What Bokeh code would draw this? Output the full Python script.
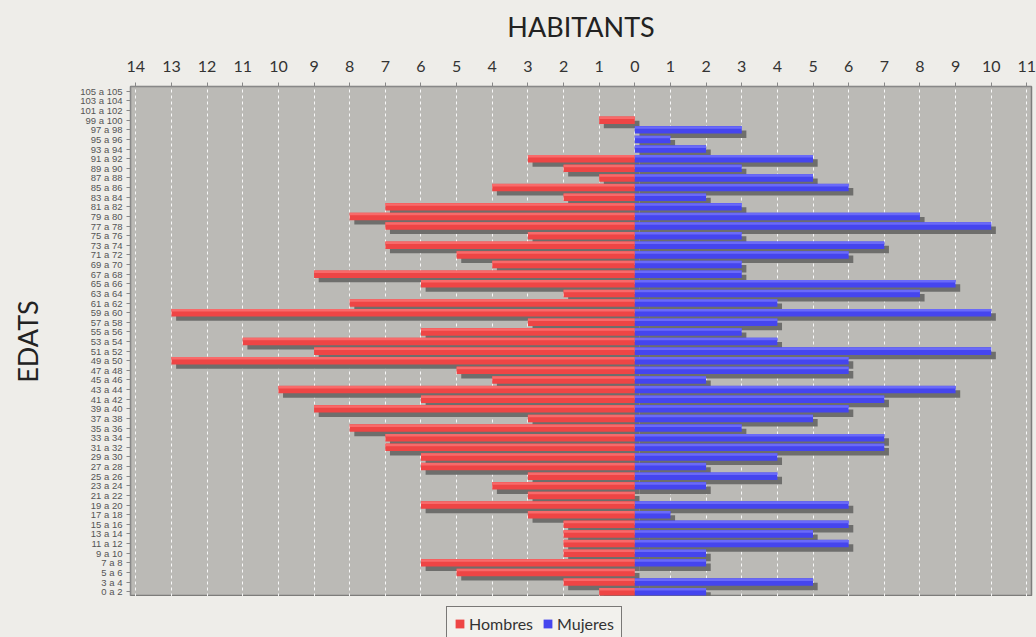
from bokeh.plotting import figure
from bokeh.layouts import column
from bokeh.models import (FactorRange, Range1d, FixedTicker, CustomJSTickFormatter,
                          Legend, LegendItem, ColumnDataSource, GlobalInlineStyleSheet)
from bokeh.transform import dodge
from bokeh.embed import file_html
from bokeh.resources import INLINE

# ---- data (bottom to top) ----
ages = ["0 a 2", "3 a 4", "5 a 6", "7 a 8", "9 a 10", "11 a 12", "13 a 14", "15 a 16",
        "17 a 18", "19 a 20", "21 a 22", "23 a 24", "25 a 26", "27 a 28", "29 a 30",
        "31 a 32", "33 a 34", "35 a 36", "37 a 38", "39 a 40", "41 a 42", "43 a 44",
        "45 a 46", "47 a 48", "49 a 50", "51 a 52", "53 a 54", "55 a 56", "57 a 58",
        "59 a 60", "61 a 62", "63 a 64", "65 a 66", "67 a 68", "69 a 70", "71 a 72",
        "73 a 74", "75 a 76", "77 a 78", "79 a 80", "81 a 82", "83 a 84", "85 a 86",
        "87 a 88", "89 a 90", "91 a 92", "93 a 94", "95 a 96", "97 a 98", "99 a 100",
        "101 a 102", "103 a 104", "105 a 105"]
hombres = [1, 2, 5, 6, 2, 2, 2, 2, 3, 6, 3, 4, 3, 6, 6, 7, 7, 8, 3, 9, 6, 10, 4, 5, 13,
           9, 11, 6, 3, 13, 8, 2, 6, 9, 4, 5, 7, 3, 7, 8, 7, 2, 4, 1, 2, 3, 0, 0, 0, 1,
           0, 0, 0]
mujeres = [2, 5, 0, 2, 2, 6, 5, 6, 1, 6, 0, 2, 4, 2, 4, 7, 7, 3, 5, 6, 7, 9, 2, 6, 6,
           10, 4, 3, 4, 10, 4, 8, 9, 3, 3, 6, 7, 3, 10, 8, 3, 2, 6, 5, 3, 5, 2, 1, 3, 0,
           0, 0, 0]
x_ticks = [-14, -13, -12, -11, -10, -9, -8, -7, -6, -5, -4, -3, -2, -1, 0,
           1, 2, 3, 4, 5, 6, 7, 8, 9, 10, 11]
series_names = ["Hombres", "Mujeres"]
series_colors = ["#ee4545", "#4545ee"]
highlight_colors = ["#f86a6a", "#6a6af8"]

src = ColumnDataSource(dict(
    age=ages,
    m_left=[-v for v in hombres],
    zero=[0] * len(ages),
    f_right=mujeres,
))

TITLE_FONT = "Lato"
PAGE_BG = "#eeede9"

p = figure(width=1036, height=596,
           y_range=FactorRange(*ages),
           x_range=Range1d(-14.15, 11.13),
           x_axis_location="above",
           output_backend="svg", toolbar_location=None,
           min_border_left=130, min_border_right=5,
           min_border_top=86, min_border_bottom=0)

p.background_fill_color = "#bbbab6"
p.border_fill_color = PAGE_BG
p.outline_line_color = "#7d7d7b"
p.outline_line_width = 1.5

# shadows
shadow = "#6e6e6c"
p.hbar(y=dodge("age", -0.45, range=p.y_range), left=dodge("m_left", 0.13),
       right=dodge("zero", 0.13), height=0.78, fill_color=shadow, line_color=None,
       source=src)
p.hbar(y=dodge("age", -0.45, range=p.y_range), left=dodge("zero", 0.13),
       right=dodge("f_right", 0.13), height=0.78, fill_color=shadow, line_color=None,
       source=src)

# bars
p.hbar(y="age", left="m_left", right="zero", height=0.78,
       fill_color=series_colors[0], line_color=None, source=src)
p.hbar(y="age", left="zero", right="f_right", height=0.78,
       fill_color=series_colors[1], line_color=None, source=src)
# highlight strips
p.hbar(y=dodge("age", 0.25, range=p.y_range), left="m_left", right="zero", height=0.26,
       fill_color=highlight_colors[0], line_color=None, source=src)
p.hbar(y=dodge("age", 0.25, range=p.y_range), left="zero", right="f_right", height=0.26,
       fill_color=highlight_colors[1], line_color=None, source=src)

# x axis (top)
xa = p.xaxis[0]
xa.ticker = FixedTicker(ticks=x_ticks)
xa.formatter = CustomJSTickFormatter(code="return Math.abs(tick).toFixed(0);")
xa.axis_label = "HABITANTS"
xa.axis_label_text_font = TITLE_FONT
xa.axis_label_text_font_size = "27px"
xa.axis_label_text_font_style = "normal"
xa.axis_label_text_color = "#222222"
xa.axis_label_standoff = 15
xa.major_label_text_font = TITLE_FONT
xa.major_label_text_font_size = "16px"
xa.major_label_text_color = "#333333"
xa.major_label_standoff = 11
xa.major_tick_in = 0
xa.major_tick_out = 4
xa.minor_tick_line_color = None
xa.axis_line_color = "#888888"
xa.major_tick_line_color = "#888888"

# y axis
ya = p.yaxis[0]
ya.axis_label = "EDATS"
ya.axis_label_text_font = TITLE_FONT
ya.axis_label_text_font_size = "27px"
ya.axis_label_text_font_style = "normal"
ya.axis_label_text_color = "#222222"
ya.axis_label_standoff = 33
ya.major_label_text_font = "Liberation Sans"
ya.major_label_text_font_size = "9.5px"
ya.major_label_text_color = "#555555"
ya.major_label_standoff = 4
ya.major_tick_in = 0
ya.major_tick_out = 4
ya.axis_line_color = "#888888"
ya.major_tick_line_color = "#888888"

# grid
p.xgrid.ticker = FixedTicker(ticks=x_ticks)
p.xgrid.grid_line_color = "white"
p.xgrid.grid_line_dash = "3 3"
p.xgrid.grid_line_alpha = 0.9
p.ygrid.grid_line_color = None

# ---- legend strip below the chart ----
p2 = figure(width=1036, height=41, x_range=Range1d(0, 1), y_range=Range1d(0, 1),
            output_backend="svg", toolbar_location=None, min_border=0)
p2.axis.visible = False
p2.grid.visible = False
p2.outline_line_color = None
p2.background_fill_color = PAGE_BG
p2.border_fill_color = PAGE_BG
nan = float("nan")
leg_r = [p2.hbar(y=[nan], left=[nan], right=[nan], height=1, fill_color=c,
                 line_color=None)
         for c in series_colors]

legend = Legend(items=[LegendItem(label=n, renderers=[r])
                       for n, r in zip(series_names, leg_r)],
                location=(316, -4), orientation="horizontal")
legend.label_text_font = TITLE_FONT
legend.label_text_font_size = "16px"
legend.label_text_color = "#333333"
legend.border_line_color = "black"
legend.border_line_width = 1.5
legend.background_fill_color = "#f2f1ed"
legend.background_fill_alpha = 1
legend.glyph_width = 11
legend.glyph_height = 11
legend.label_standoff = 4
legend.spacing = 9
legend.padding = 7
legend.margin = 0
p2.add_layout(legend)

layout = column(p, p2, spacing=0)
layout.stylesheets = [GlobalInlineStyleSheet(
    css="html,body{background:%s;overflow:hidden;}" % PAGE_BG)]

open("out.html", "w").write(file_html(layout, INLINE))
